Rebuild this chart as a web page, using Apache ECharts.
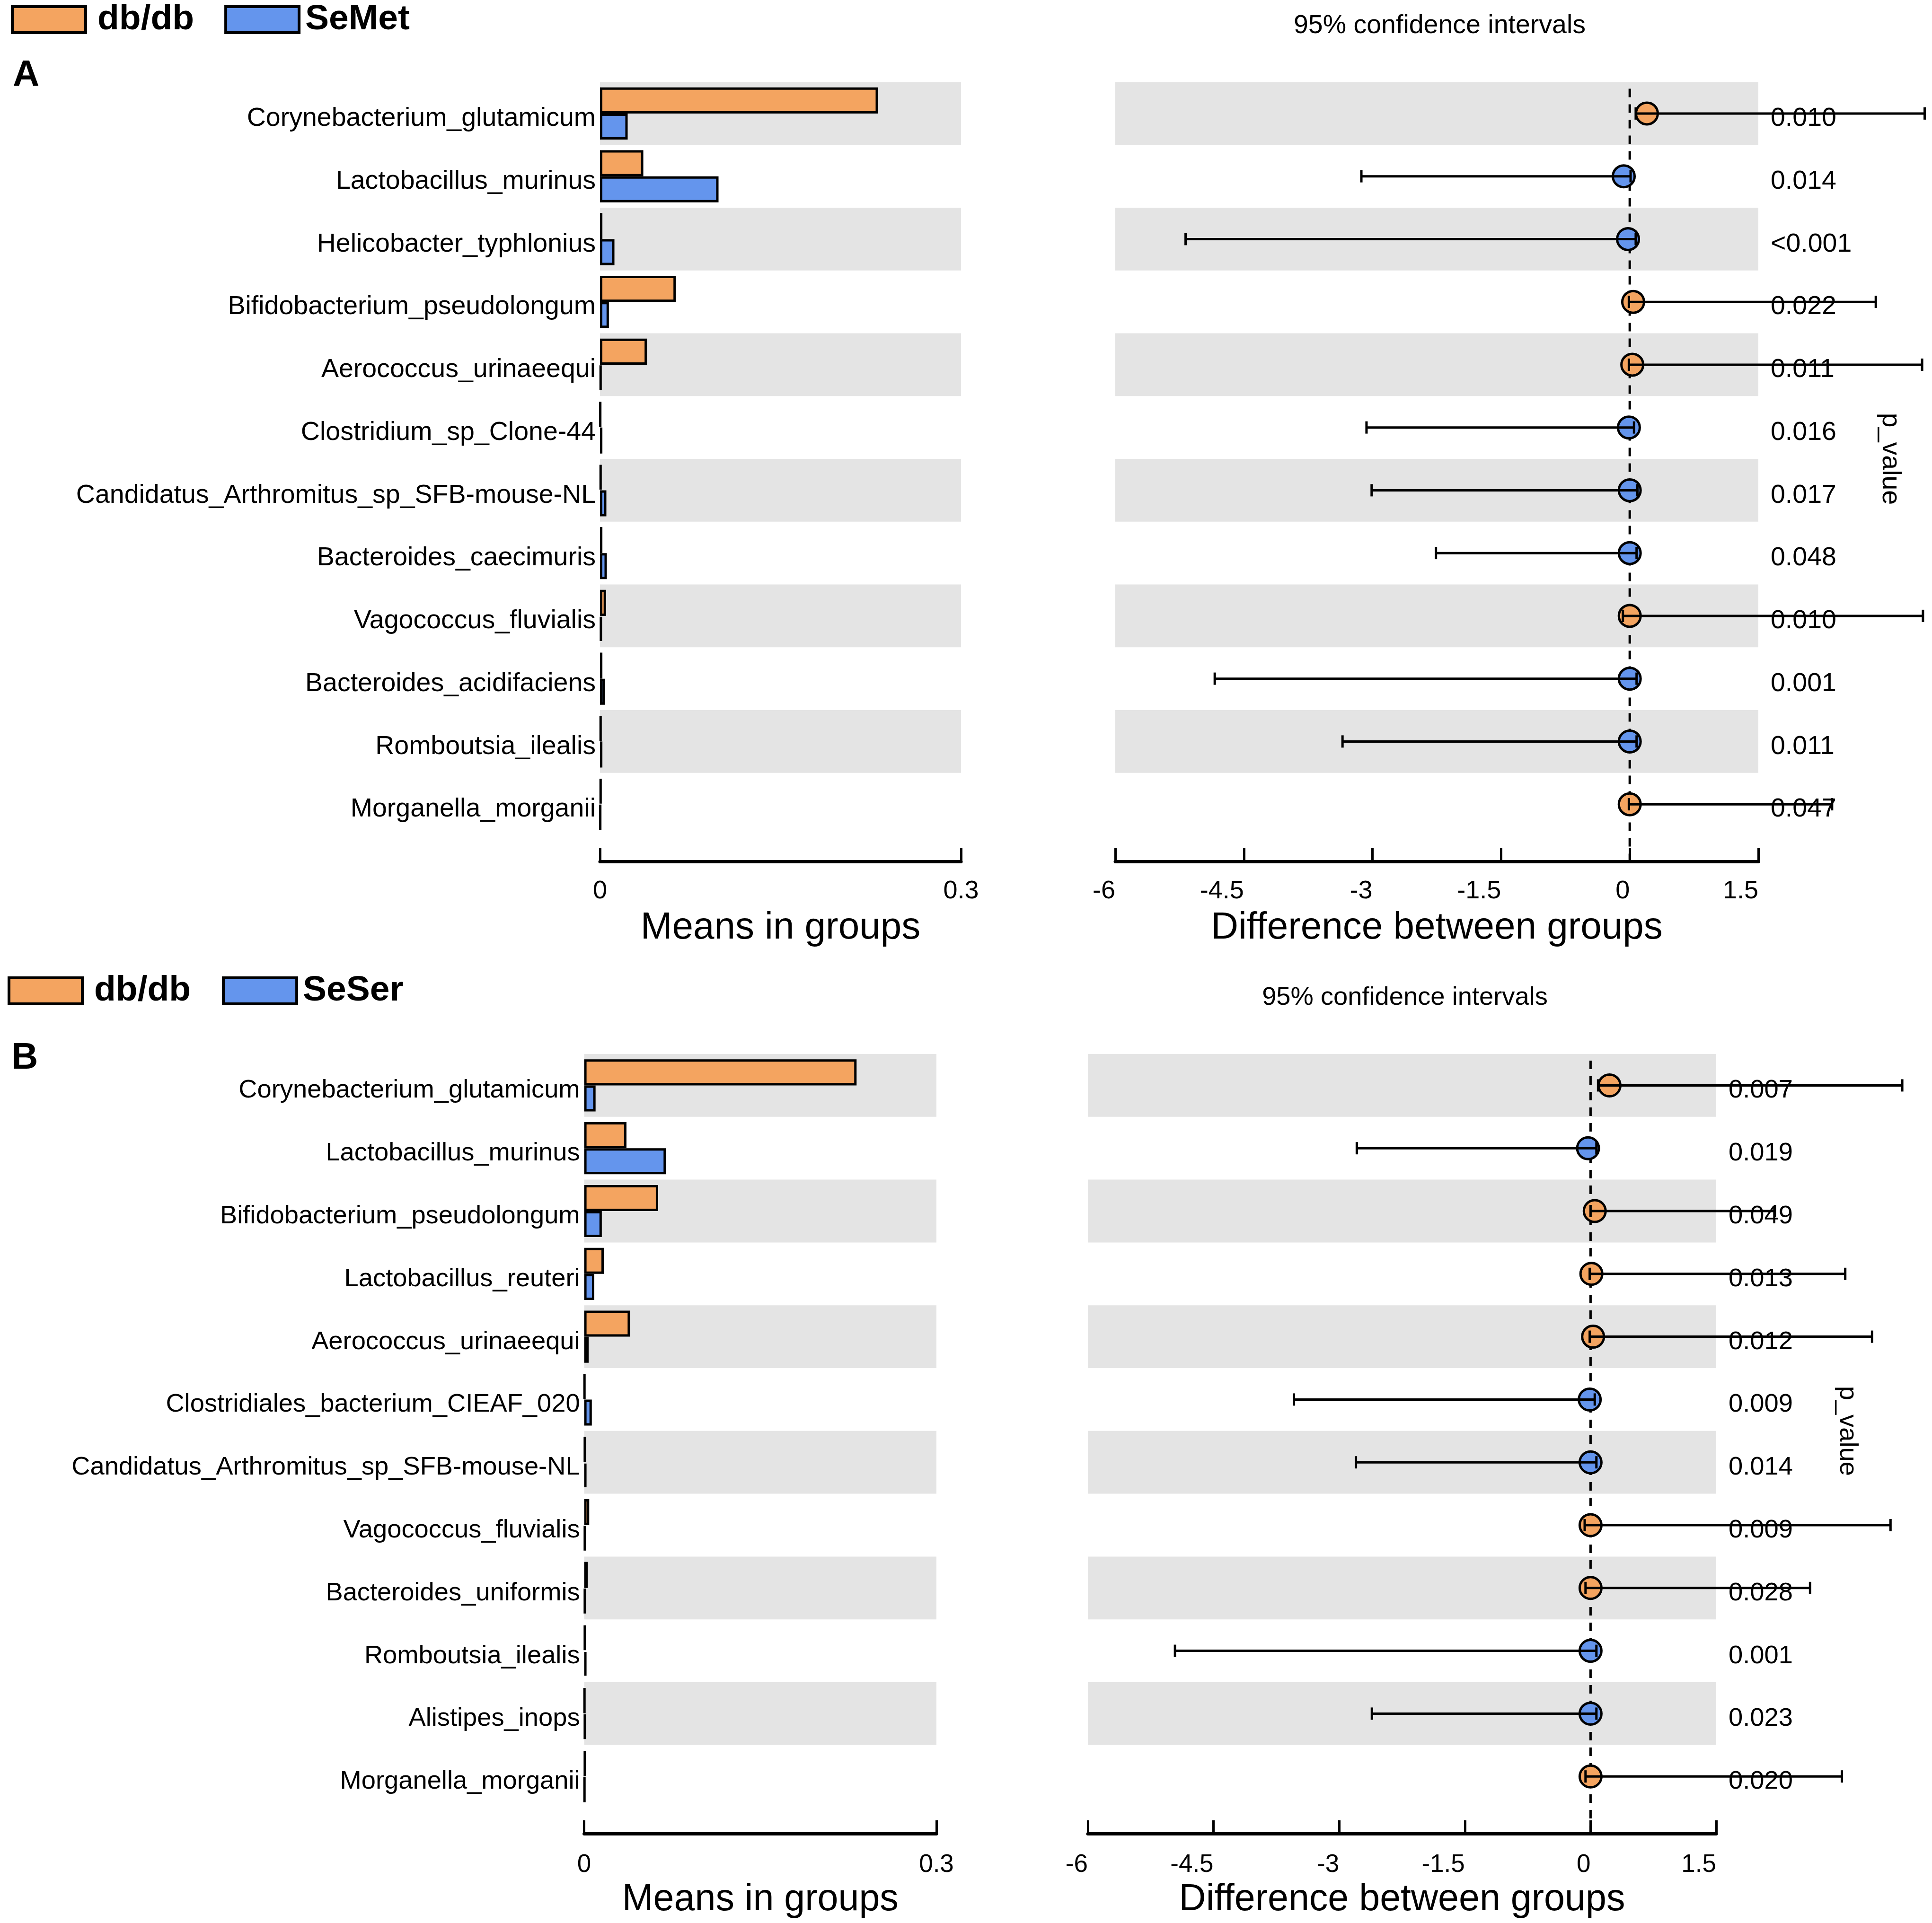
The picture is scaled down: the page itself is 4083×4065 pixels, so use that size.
<!DOCTYPE html>
<html><head><meta charset="utf-8">
<script src="https://cdn.jsdelivr.net/npm/echarts@6/dist/echarts.min.js"></script>
<style>html,body{margin:0;padding:0;background:#fff}#chart{width:4083px;height:4065px}</style>
</head><body><div id="chart"></div>
<script>
// ---------------- Panel A data ----------------
var speciesA = ['Corynebacterium_glutamicum','Lactobacillus_murinus','Helicobacter_typhlonius','Bifidobacterium_pseudolongum','Aerococcus_urinaeequi','Clostridium_sp_Clone-44','Candidatus_Arthromitus_sp_SFB-mouse-NL','Bacteroides_caecimuris','Vagococcus_fluvialis','Bacteroides_acidifaciens','Romboutsia_ilealis','Morganella_morganii'];
var dbdbA  = [0.231, 0.036, 0.002, 0.063, 0.039, 0.0005, 0.001, 0.002, 0.005, 0.002, 0.001, 0.001];
var semetA = [0.023, 0.0985, 0.012, 0.0074, 0.001, 0.002, 0.0053, 0.0057, 0.0015, 0.004, 0.002, 0.0005];
var diffA  = [0.2, -0.07, -0.02, 0.04, 0.03, -0.01, 0.0, 0.0, 0.0, 0.0, 0.0, 0.0];
var lowA   = [0.07, -3.13, -5.18, -0.01, -0.01, -3.07, -3.01, -2.26, -0.08, -4.84, -3.35, -0.01];
var highA  = [3.44, 0.01, 0.07, 2.87, 3.41, 0.05, 0.09, 0.08, 3.42, 0.08, 0.08, 2.36];
var enrichedA = ['db/db','SeMet','SeMet','db/db','db/db','SeMet','SeMet','SeMet','db/db','SeMet','SeMet','db/db'];
var pvalA  = ['0.010','0.014','<0.001','0.022','0.011','0.016','0.017','0.048','0.010','0.001','0.011','0.047'];
var groupsA = ['db/db','SeMet'];

// ---------------- Panel B data ----------------
var speciesB = ['Corynebacterium_glutamicum','Lactobacillus_murinus','Bifidobacterium_pseudolongum','Lactobacillus_reuteri','Aerococcus_urinaeequi','Clostridiales_bacterium_CIEAF_020','Candidatus_Arthromitus_sp_SFB-mouse-NL','Vagococcus_fluvialis','Bacteroides_uniformis','Romboutsia_ilealis','Alistipes_inops','Morganella_morganii'];
var dbdbB  = [0.232, 0.036, 0.063, 0.0167, 0.039, 0.0005, 0.001, 0.0043, 0.003, 0.001, 0.0005, 0.001];
var seserB = [0.0097, 0.0696, 0.015, 0.0086, 0.0038, 0.0065, 0.002, 0.001, 0.001, 0.002, 0.001, 0.0005];
var diffB  = [0.226, -0.03, 0.05, 0.01, 0.03, -0.01, 0.0, 0.0, 0.0, 0.0, 0.0, 0.0];
var lowB   = [0.09, -2.79, 0.0, -0.01, -0.01, -3.54, -2.80, -0.07, -0.06, -4.96, -2.61, -0.06];
var highB  = [3.72, 0.07, 2.2, 3.04, 3.36, 0.05, 0.07, 3.58, 2.62, 0.07, 0.07, 3.0];
var enrichedB = ['db/db','SeSer','db/db','db/db','db/db','SeSer','SeSer','db/db','db/db','SeSer','SeSer','db/db'];
var pvalB  = ['0.007','0.019','0.049','0.013','0.012','0.009','0.014','0.009','0.028','0.001','0.023','0.020'];
var groupsB = ['db/db','SeSer'];

// ---------------- Axis tick labels ----------------
var meansTicks = [0, 0.3];
var diffTicks = [-6, -4.5, -3, -1.5, 0, 1.5];

// ---------------- Styling / layout ----------------
var ORANGE = '#F4A460', BLUE = '#6495ED', GRAY = '#e4e4e4';
var FONT = 'Liberation Sans, Arial, sans-serif';
var panels = [
  {species: speciesA, g1: dbdbA, g2: semetA, diff: diffA, low: lowA, high: highA, enr: enrichedA, pval: pvalA, groups: groupsA,
   top: 173.5, rowH: 132.75, lL: 1268, lR: 2031, rL: 2357, rR: 3716, off: 54.5, fs: 55.5, tfs: 54, nfs: 80, lblMargin: 36,
   legendLeft: 23, legendTop: 4, legendGap: 64, letter: 'A', letterTop: 121, letterLeft: 27, ciTop: 27},
  {species: speciesB, g1: dbdbB, g2: seserB, diff: diffB, low: lowB, high: highB, enr: enrichedB, pval: pvalB, groups: groupsB,
   top: 2228, rowH: 132.8, lL: 1234.6, lR: 1979, rL: 2299, rR: 3627, off: 54.5, fs: 54.3, tfs: 53, nfs: 79, lblMargin: 40,
   legendLeft: 16, legendTop: 2057, legendGap: 66, letter: 'B', letterTop: 2198, letterLeft: 24, ciTop: 2082}
];

var grids = [], xAxes = [], yAxes = [], series = [], legends = [], titles = [];

function shifted(fs) {
  return {
    formatter: function (v) { return '{t|' + v + '}'; },
    rich: {t: {fontSize: fs, color: '#000', fontFamily: FONT, padding: [22, 0, 0, 0]}}
  };
}

panels.forEach(function (p, k) {
  var H = p.rowH * p.species.length;
  grids.push({left: p.lL, top: p.top, width: p.lR - p.lL, height: H, containLabel: false, outerBoundsMode: 'none'});
  grids.push({left: p.rL, top: p.top, width: p.rR - p.rL, height: H, containLabel: false, outerBoundsMode: 'none'});
  var gL = 2 * k, gR = 2 * k + 1;

  var axisLineStyle = {show: true, lineStyle: {color: '#000', width: 7}};
  var tickStyle = {show: true, inside: true, length: 28, lineStyle: {color: '#000', width: 5}};
  xAxes.push({gridIndex: gL, type: 'value', min: meansTicks[0], max: meansTicks[meansTicks.length - 1],
    interval: meansTicks[1] - meansTicks[0], offset: p.off,
    axisLine: axisLineStyle, axisTick: tickStyle, splitLine: {show: false},
    axisLabel: {fontSize: p.tfs, color: '#000', margin: p.lblMargin, fontFamily: FONT},
    name: 'Means in groups', nameLocation: 'middle', nameGap: 101,
    nameTextStyle: {fontSize: p.nfs, color: '#000', fontFamily: FONT}});
  xAxes.push({gridIndex: gR, type: 'value', min: diffTicks[0], max: diffTicks[diffTicks.length - 1],
    interval: diffTicks[1] - diffTicks[0], offset: p.off,
    axisLine: axisLineStyle, axisTick: tickStyle, splitLine: {show: false},
    axisLabel: {fontSize: p.tfs, color: '#000', margin: p.lblMargin, align: 'right', fontFamily: FONT},
    name: 'Difference between groups', nameLocation: 'middle', nameGap: 101,
    nameTextStyle: {fontSize: p.nfs, color: '#000', fontFamily: FONT}});

  var yL = yAxes.length;
  yAxes.push({gridIndex: gL, type: 'category', data: p.species, inverse: true,
    axisLine: {show: false}, axisTick: {show: false},
    axisLabel: Object.assign({margin: 9}, shifted(p.fs)),
    splitArea: {show: true, areaStyle: {color: [GRAY, 'rgba(255,255,255,0)']}}});
  var yR = yAxes.length;
  yAxes.push({gridIndex: gR, type: 'category', data: p.species, inverse: true, position: 'left',
    axisLine: {show: false}, axisTick: {show: false}, axisLabel: {show: false},
    splitArea: {show: true, areaStyle: {color: [GRAY, 'rgba(255,255,255,0)']}}});
  yAxes.push({gridIndex: gR, type: 'category', data: p.pval, inverse: true, position: 'right',
    axisLine: {show: false}, axisTick: {show: false},
    axisLabel: Object.assign({margin: 26}, shifted(p.fs)),
    name: 'p_value', nameLocation: 'middle', nameRotate: -90, nameGap: 250,
    nameTextStyle: {fontSize: p.fs, color: '#000', fontFamily: FONT}});

  var barStyleBase = {borderColor: '#000', borderWidth: 5};
  series.push({type: 'bar', name: p.groups[0], xAxisIndex: gL, yAxisIndex: yL, data: p.g1,
    barCategoryGap: '17%', barGap: '0%', itemStyle: Object.assign({color: ORANGE}, barStyleBase), silent: true});
  series.push({type: 'bar', name: p.groups[1], xAxisIndex: gL, yAxisIndex: yL, data: p.g2,
    barCategoryGap: '17%', barGap: '0%', itemStyle: Object.assign({color: BLUE}, barStyleBase), silent: true});

  // dashed zero line
  (function (off) {
    series.push({type: 'custom', name: 'zero' + k, xAxisIndex: gR, yAxisIndex: yR, data: [[0, 0]], silent: true, clip: false,
      encode: {x: 0, y: 1}, z: 2,
      renderItem: function (params, api) {
        var cs = params.coordSys;
        var x = api.coord([0, 0])[0];
        return {type: 'line', shape: {x1: x, y1: cs.y + 14, x2: x, y2: cs.y + cs.height + off},
          style: {stroke: '#000', lineWidth: 5, lineDash: [18, 15]}};
      }});
  })(p.off);

  // CI points
  var ciData = p.species.map(function (s, i) {
    return [p.low[i], p.high[i], p.diff[i], i, p.enr[i] === p.groups[0] ? 0 : 1];
  });
  series.push({type: 'custom', name: 'ci' + k, xAxisIndex: gR, yAxisIndex: yR, data: ciData, silent: true, clip: false,
    encode: {x: [0, 1, 2], y: 3}, z: 3,
    renderItem: function (params, api) {
      var row = api.value(3);
      var lo = api.coord([api.value(0), row]);
      var hi = api.coord([api.value(1), row]);
      var pt = api.coord([api.value(2), row]);
      var fill = api.value(4) === 0 ? ORANGE : BLUE;
      var cap = 13, lw = 5;
      var ls = {stroke: '#000', lineWidth: lw};
      return {type: 'group', children: [
        {type: 'circle', shape: {cx: pt[0], cy: pt[1], r: 23}, style: {fill: fill, stroke: '#000', lineWidth: 5}},
        {type: 'line', shape: {x1: lo[0], y1: lo[1], x2: hi[0], y2: hi[1]}, style: ls},
        {type: 'line', shape: {x1: lo[0], y1: lo[1] - cap, x2: lo[0], y2: lo[1] + cap}, style: ls},
        {type: 'line', shape: {x1: hi[0], y1: hi[1] - cap, x2: hi[0], y2: hi[1] + cap}, style: ls}
      ]};
    }});

  legends.push({left: p.legendLeft, top: p.legendTop, orient: 'horizontal', padding: 0,
    itemWidth: 155, itemHeight: 55, itemGap: p.legendGap, icon: 'rect', selectedMode: false,
    data: [{name: p.groups[0]}, {name: p.groups[1], textStyle: {padding: [0, 0, 0, 8]}}],
    itemStyle: {borderColor: '#000', borderWidth: 6},
    textStyle: {fontSize: 75, fontWeight: 'bold', color: '#000', fontFamily: FONT, padding: [0, 0, 0, 20]}});

  titles.push({text: p.letter, left: p.letterLeft, top: p.letterTop, padding: 0,
    textStyle: {fontSize: 78, fontWeight: 'bold', color: '#000', fontFamily: FONT}});
  titles.push({text: '95% confidence intervals', left: (p.rL + p.rR) / 2 + 6, top: p.ciTop, padding: 0, textAlign: 'center',
    textStyle: {fontSize: p.fs, fontWeight: 'normal', color: '#000', fontFamily: FONT}});
});

var chart = echarts.init(document.getElementById('chart'), null, {renderer: 'canvas', width: 4083, height: 4065});
chart.setOption({
  backgroundColor: '#ffffff',
  animation: false,
  textStyle: {fontFamily: FONT},
  title: titles,
  legend: legends,
  grid: grids,
  xAxis: xAxes,
  yAxis: yAxes,
  series: series
});
</script></body></html>
